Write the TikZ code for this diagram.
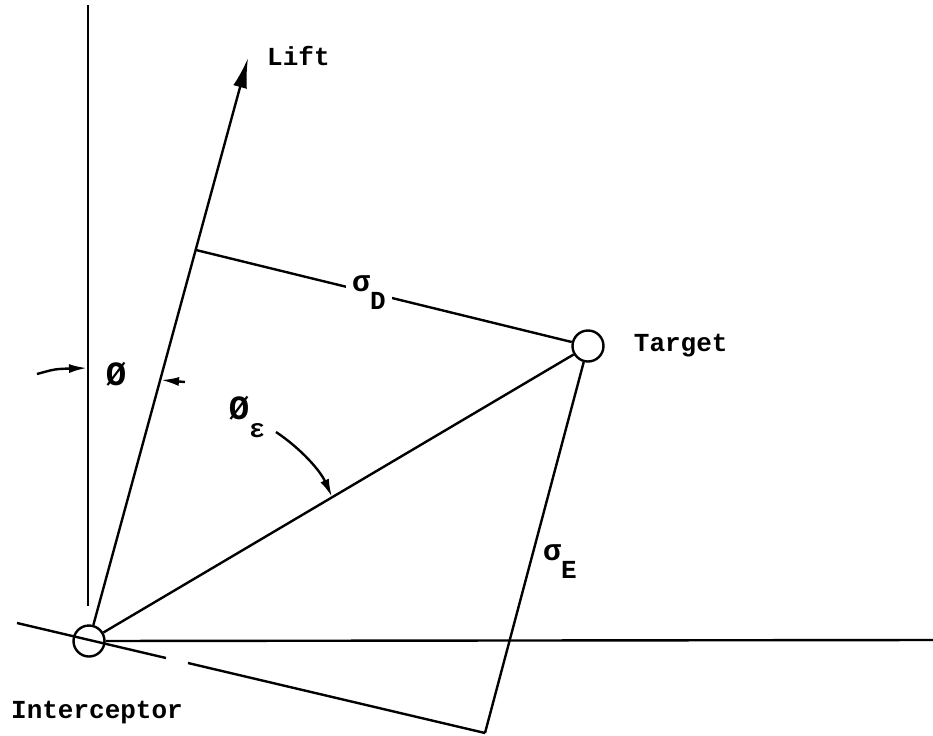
\documentclass[tikz,border=0pt]{standalone}
\usepackage{fontspec}
\setmonofont{Liberation Mono}
\usetikzlibrary{arrows.meta,positioning}

\begin{document}
\begin{tikzpicture}[
    x=0.5pt, y=-0.5pt,
    line width=1.2pt,
    body/.style={draw, circle, line width=1.2pt, minimum size=15.5pt, inner sep=0pt},
    lbl/.style={font=\ttfamily\bfseries\fontsize{13}{15}\selectfont, inner sep=1pt},
    big/.style={font=\ttfamily\bfseries\fontsize{17}{19}\selectfont},
    tip/.style={-{Latex[length=9pt,width=4.5pt]}},
    bigtip/.style={-{Latex[length=15pt,width=7pt]}}
  ]
    \useasboundingbox (0,0) rectangle (933,735);
    % bodies
    \node[body] (icpt) at (89,641) {};
    \node[body] (tgt) at (588,346) {};
    \node[lbl, right=13pt of tgt] (tgtlbl) {Target};
    \node[lbl, below=20pt of icpt, xshift=4pt] (icptlbl) {Interceptor};
    % reference points
    \coordinate (vtop) at (88,5);
    \coordinate (vbot) at (88,606);
    \coordinate (hend) at (933,640);
    \coordinate (lifttip) at (248,58);
    \coordinate (foot) at (196,250);
    \coordinate (corner) at (485,733);
    \coordinate (lowstart) at (17,623);
    \coordinate (gapA) at (166,658);
    \coordinate (gapB) at (188,663);
    \node[lbl, right=8pt of lifttip, yshift=1pt] (liftlbl) {Lift};
    % axes and lines
    \draw (vtop) -- (vbot);
    \draw (icpt) -- (hend);
    \draw[bigtip] (icpt) -- (lifttip);
    \draw (foot) -- node[lbl, fill=white, pos=0.46, inner sep=3pt] (sigD) {{\fontsize{15}{17}\selectfont σ}\raisebox{-9pt}{D}} (tgt);
    \draw (icpt) -- (tgt);
    \draw (tgt) -- (corner);
    \draw (lowstart) -- (gapA);
    \draw (gapB) -- (corner);
    \node[lbl] (sigE) at (560,562) {{\fontsize{15}{17}\selectfont σ}\raisebox{-9pt}{E}};
    % angle marks
    \node[lbl, big] (phi) at (116,374) {Ø};
    \node[lbl] (phieps) at (247,417) {{\fontsize{17}{19}\selectfont Ø}\raisebox{-9pt}{ε}};
    \coordinate (phistart) at (37,374);
    \coordinate (phiend) at (87,368);
    \coordinate (liftmark) at (185,382);
    \coordinate (liftend) at (161,380);
    \coordinate (epsstart) at (276,432);
    \coordinate (epsend) at (332,497);
    \draw[tip] (phistart) .. controls (55,369) .. (phiend);
    \draw[tip] (liftmark) -- (liftend);
    \draw[tip] (epsstart) .. controls (300,448) and (320,470) .. (epsend);
  \end{tikzpicture}
\end{document}
